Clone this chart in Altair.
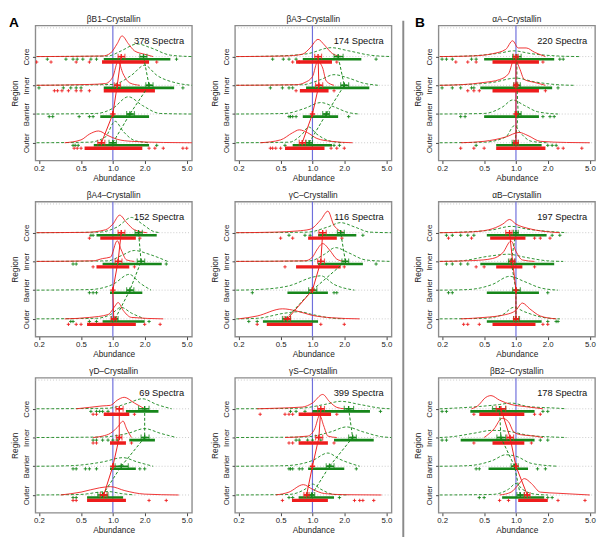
import altair as alt
import pandas as pd

FONT = "Liberation Sans, Arial, Helvetica, sans-serif"
RED = "#ee1c1c"
GREEN = "#16861a"
REFBLUE = "#6f6fdc"

titles = ["βB1–Crystallin", "βA3–Crystallin", "βA4–Crystallin", "γC–Crystallin",
          "γD–Crystallin", "γS–Crystallin", "αA–Crystallin", "αB–Crystallin", "βB2–Crystallin"]
spectra = [378, 174, 152, 116, 69, 399, 220, 197, 178]
region_names = ["Core", "Inner", "Barrier", "Outer"]
region_level = [3, 2, 1, 0]
tick_values = [0.2, 0.5, 1.0, 2.0, 5.0]
grid_levels = [0, 1, 2, 3, 4]
ref_value = [1.0]

# means and intervals, order: Core, Inner, Barrier, Outer
red_mean = [[1.2, 1.1, 1.0, 0.78], [1.13, 1.15, 1.0, 0.8], [1.2, 1.12, 1.0, 1.02],
            [1.25, 1.2, 1.0, 0.58], [1.15, 1.15, 1.0, 0.82], [1.2, 1.15, 1.0, 0.88],
            [1.0, 1.0, 1.0, 1.0], [0.87, 0.93, 1.0, 1.0], [0.72, 0.88, 1.0, 1.28]]
red_lo = [[1.12, 1.03, 1.0, 0.72], [1.05, 1.07, 1.0, 0.75], [1.12, 1.05, 1.0, 0.96],
          [1.15, 1.12, 1.0, 0.54], [1.07, 1.08, 1.0, 0.76], [1.12, 1.07, 1.0, 0.83],
          [0.95, 0.96, 1.0, 0.95], [0.8, 0.88, 1.0, 0.95], [0.65, 0.82, 1.0, 1.2]]
red_hi = [[1.3, 1.18, 1.0, 0.84], [1.22, 1.25, 1.0, 0.86], [1.3, 1.22, 1.0, 1.08],
          [1.35, 1.3, 1.0, 0.62], [1.25, 1.22, 1.0, 0.88], [1.3, 1.25, 1.0, 0.93],
          [1.05, 1.04, 1.0, 1.05], [0.92, 0.98, 1.0, 1.06], [0.8, 0.95, 1.0, 1.36]]
green_mean = [[1.95, 2.2, 1.45, 1.0], [1.75, 2.0, 1.35, 0.93], [1.75, 1.85, 1.45, 1.05],
              [1.85, 2.05, 1.0, 0.56], [2.0, 2.0, 1.2, 0.8], [2.2, 2.4, 1.45, 0.98],
              [1.02, 1.02, 1.05, 0.98], [1.0, 0.9, 1.0, 1.0], [0.7, 0.72, 0.97, 1.1]]
green_lo = [[1.8, 2.05, 1.35, 0.92], [1.6, 1.85, 1.25, 0.87], [1.62, 1.7, 1.35, 0.97],
            [1.72, 1.9, 0.92, 0.52], [1.75, 1.85, 1.05, 0.72], [2.0, 2.2, 1.35, 0.9],
            [0.93, 0.95, 0.98, 0.92], [0.95, 0.85, 0.93, 0.95], [0.6, 0.66, 0.9, 1.02]]
green_hi = [[2.1, 2.4, 1.6, 1.08], [1.95, 2.2, 1.45, 1.0], [1.9, 2.0, 1.58, 1.12],
            [2.0, 2.2, 1.1, 0.62], [2.2, 2.2, 1.4, 0.9], [2.45, 2.6, 1.6, 1.05],
            [1.12, 1.1, 1.12, 1.05], [1.05, 0.97, 1.1, 1.08], [0.8, 0.8, 1.05, 1.2]]

# density outlines [abundance, height], order: Core, Inner, Barrier, Outer
red_density = [
    [[[0.19, 0], [0.8, 0.02], [0.95, 0.12], [1.1, 0.45], [1.22, 0.72], [1.4, 0.45], [1.6, 0.2], [2.0, 0.08], [2.4, 0]],
     [[0.19, 0], [0.6, 0.03], [0.85, 0.06], [1.0, 0.3], [1.12, 0.83], [1.25, 0.4], [1.45, 0.08], [1.8, 0]],
     None,
     [[0.35, 0], [0.5, 0.1], [0.6, 0.3], [0.73, 0.41], [0.9, 0.25], [1.1, 0.12], [1.5, 0.05], [3.0, 0.01], [5.6, 0]]],
    [[[0.19, 0], [0.55, 0.02], [0.8, 0.08], [0.95, 0.3], [1.13, 0.6], [1.3, 0.4], [1.55, 0.1], [1.9, 0]],
     [[0.19, 0], [0.7, 0.02], [0.85, 0.1], [1.0, 0.3], [1.12, 0.83], [1.25, 0.6], [1.35, 0.15], [1.6, 0]],
     None,
     [[0.32, 0], [0.5, 0.1], [0.65, 0.35], [0.75, 0.45], [0.9, 0.35], [1.1, 0.15], [1.5, 0.05], [2.4, 0]]],
    [[[0.19, 0], [0.55, 0.01], [0.85, 0.1], [1.0, 0.3], [1.16, 0.61], [1.35, 0.35], [1.6, 0.1], [2.1, 0]],
     [[0.19, 0], [0.65, 0.02], [0.8, 0.1], [0.95, 0.15], [1.1, 0.72], [1.2, 0.4], [1.35, 0.05], [1.6, 0]],
     None,
     [[0.35, 0], [0.6, 0.05], [0.9, 0.15], [1.05, 0.45], [1.12, 0.57], [1.25, 0.3], [1.5, 0.05], [3.0, 0]]],
    [[[0.19, 0], [0.45, 0.02], [0.72, 0.06], [0.95, 0.12], [1.2, 0.45], [1.4, 0.75], [1.6, 0.25], [2.0, 0]],
     [[0.19, 0], [0.85, 0.02], [1.0, 0.15], [1.1, 0.4], [1.25, 0.62], [1.45, 0.4], [1.7, 0.08], [2.0, 0]],
     None,
     [[0.2, 0], [0.3, 0.1], [0.52, 0.35], [0.7, 0.28], [1.0, 0.12], [1.5, 0.04], [2.8, 0]]],
    [[[0.45, 0], [0.6, 0.05], [0.79, 0.1], [0.95, 0.12], [1.1, 0.3], [1.28, 0.4], [1.6, 0.2], [2.0, 0]],
     [[0.65, 0], [0.8, 0.05], [0.95, 0.15], [1.1, 0.35], [1.25, 0.57], [1.35, 0.3], [1.5, 0]],
     None,
     [[0.32, 0], [0.5, 0.1], [0.75, 0.25], [0.95, 0.29], [1.3, 0.15], [2.0, 0.03], [4.2, 0]]],
    [[[0.3, 0], [0.45, 0.02], [0.8, 0.06], [1.0, 0.2], [1.25, 0.5], [1.45, 0.25], [1.7, 0.05], [2.0, 0]],
     [[0.55, 0], [0.9, 0.05], [1.05, 0.3], [1.17, 0.77], [1.28, 0.4], [1.4, 0.05], [1.7, 0]],
     None,
     [[0.45, 0], [0.6, 0.1], [0.82, 0.36], [1.0, 0.2], [1.3, 0.05], [2.0, 0.01], [4.5, 0]]],
    [[[0.19, 0], [0.38, 0.02], [0.6, 0.1], [0.8, 0.25], [0.93, 0.55], [1.05, 0.3], [1.25, 0.3], [1.5, 0.15], [1.9, 0]],
     [[0.19, 0], [0.3, 0.02], [0.5, 0.1], [0.7, 0.2], [0.85, 0.4], [0.97, 0.94], [1.08, 0.6], [1.2, 0.2], [1.5, 0.1], [1.9, 0]],
     None,
     [[0.3, 0], [0.5, 0.05], [0.8, 0.2], [1.07, 0.36], [1.3, 0.25], [1.7, 0.05], [3.0, 0.01], [5.0, 0]]],
    [[[0.19, 0], [0.35, 0.02], [0.55, 0.1], [0.75, 0.3], [0.87, 0.46], [1.0, 0.3], [1.3, 0.15], [1.8, 0.05], [2.6, 0]],
     [[0.19, 0], [0.4, 0.03], [0.6, 0.1], [0.75, 0.3], [0.9, 0.71], [1.0, 0.35], [1.15, 0.05], [1.5, 0]],
     None,
     [[0.3, 0], [0.5, 0.05], [0.8, 0.15], [1.0, 0.3], [1.15, 0.55], [1.35, 0.35], [1.7, 0.1], [2.4, 0]]],
    [[[0.38, 0], [0.45, 0.15], [0.5, 0.35], [0.58, 0.46], [0.7, 0.3], [0.9, 0.15], [1.2, 0.08], [1.8, 0]],
     [[0.5, 0], [0.62, 0.3], [0.74, 0.67], [0.85, 0.55], [0.95, 0.2], [1.1, 0.1], [1.5, 0.05], [1.8, 0]],
     None,
     [[0.7, 0], [0.9, 0.1], [1.05, 0.35], [1.2, 0.57], [1.4, 0.4], [1.7, 0.1], [2.5, 0.06], [5.0, 0]]],
]
green_density = [
    [[[0.19, 0], [0.9, 0.02], [1.2, 0.2], [1.7, 0.44], [2.3, 0.3], [3.5, 0.05], [5.6, 0]],
     [[0.19, 0], [1.0, 0.03], [1.5, 0.35], [2.0, 0.7], [2.6, 0.35], [4.0, 0.08], [5.6, 0]],
     [[0.19, 0], [0.7, 0.02], [1.0, 0.2], [1.4, 0.6], [1.9, 0.3], [2.8, 0.02], [5.6, 0]],
     [[0.19, 0], [0.6, 0.02], [0.85, 0.2], [1.05, 0.75], [1.25, 0.4], [1.6, 0.08], [2.2, 0]]],
    [[[0.19, 0], [0.45, 0.02], [0.9, 0.1], [1.5, 0.31], [2.2, 0.2], [3.5, 0.05], [5.6, 0]],
     [[0.19, 0], [0.8, 0.02], [1.2, 0.2], [1.6, 0.37], [2.2, 0.25], [3.0, 0.08], [4.2, 0]],
     [[0.19, 0], [0.55, 0.02], [0.85, 0.2], [1.2, 0.4], [1.6, 0.25], [2.2, 0.05], [2.8, 0]],
     [[0.19, 0], [0.6, 0.02], [0.8, 0.3], [0.92, 0.55], [1.1, 0.3], [1.5, 0.05], [2.0, 0]]],
    [[[0.19, 0], [0.75, 0.02], [1.1, 0.2], [1.5, 0.53], [1.9, 0.3], [2.4, 0.05], [2.8, 0]],
     [[0.19, 0], [0.9, 0.02], [1.2, 0.2], [1.6, 0.38], [2.2, 0.25], [3.3, 0]],
     [[0.19, 0], [0.6, 0.02], [1.0, 0.2], [1.43, 0.55], [1.8, 0.25], [2.3, 0]],
     [[0.19, 0], [0.7, 0.02], [0.95, 0.15], [1.2, 0.4], [1.5, 0.2], [2.0, 0]]],
    [[[0.19, 0], [0.9, 0.02], [1.4, 0.2], [1.85, 0.35], [2.5, 0.2], [3.5, 0.02], [5.6, 0]],
     [[0.19, 0], [0.95, 0.02], [1.3, 0.25], [1.65, 0.48], [2.2, 0.3], [3.2, 0.05], [5.6, 0]],
     [[0.19, 0], [0.3, 0.02], [0.6, 0.15], [1.0, 0.45], [1.2, 0.5], [1.6, 0.2], [2.5, 0]],
     [[0.19, 0], [0.3, 0.02], [0.55, 0.2], [0.75, 0.25], [1.0, 0.15], [1.5, 0.03], [2.0, 0]]],
    [[[0.19, 0], [0.9, 0.02], [1.4, 0.2], [1.9, 0.35], [2.6, 0.15], [3.6, 0]],
     [[0.19, 0], [0.8, 0.02], [1.4, 0.15], [2.0, 0.31], [2.8, 0.15], [4.0, 0]],
     [[0.19, 0], [0.4, 0.02], [0.8, 0.15], [1.25, 0.3], [1.7, 0.15], [2.4, 0]],
     [[0.19, 0], [0.5, 0.02], [0.75, 0.1], [0.9, 0.12], [1.2, 0.05], [1.6, 0]]],
    [[[0.19, 0], [0.75, 0.02], [1.3, 0.15], [1.85, 0.26], [2.8, 0.15], [4.5, 0.02], [5.6, 0]],
     [[0.19, 0], [0.85, 0.02], [1.5, 0.2], [2.1, 0.37], [3.0, 0.2], [4.5, 0.03], [5.6, 0]],
     [[0.19, 0], [0.55, 0.02], [1.0, 0.2], [1.4, 0.46], [1.8, 0.25], [2.8, 0]],
     [[0.19, 0], [0.6, 0.02], [0.85, 0.2], [1.0, 0.38], [1.2, 0.2], [1.6, 0.02], [2.2, 0]]],
    [[[0.19, 0], [0.35, 0.02], [0.7, 0.12], [0.95, 0.2], [1.4, 0.1], [2.5, 0.02], [4.0, 0]],
     [[0.19, 0], [0.3, 0.02], [0.6, 0.1], [1.0, 0.25], [1.5, 0.12], [2.5, 0.02], [3.5, 0]],
     [[0.19, 0], [0.5, 0.02], [0.75, 0.25], [0.93, 0.49], [1.2, 0.3], [1.6, 0.08], [2.5, 0]],
     [[0.19, 0], [0.5, 0.02], [0.8, 0.2], [0.97, 0.6], [1.1, 0.35], [1.4, 0.05], [2.0, 0]]],
    [[[0.19, 0], [0.3, 0.02], [0.6, 0.1], [0.9, 0.22], [1.3, 0.12], [2.5, 0.02], [3.0, 0]],
     [[0.19, 0], [0.3, 0.02], [0.55, 0.18], [0.85, 0.25], [1.2, 0.15], [2.0, 0.02], [2.8, 0]],
     [[0.19, 0], [0.35, 0.02], [0.6, 0.2], [0.87, 0.48], [1.2, 0.3], [1.7, 0.08], [2.5, 0]],
     [[0.19, 0], [0.5, 0.02], [0.75, 0.15], [0.95, 0.4], [1.2, 0.25], [1.8, 0.05], [2.6, 0]]],
    [[[0.19, 0], [0.25, 0.02], [0.45, 0.08], [0.7, 0.15], [0.9, 0.2], [1.3, 0.08], [2.5, 0.02], [3.0, 0]],
     [[0.19, 0], [0.25, 0.03], [0.4, 0.15], [0.6, 0.25], [0.9, 0.2], [1.3, 0.08], [2.2, 0.02], [3.0, 0]],
     [[0.19, 0], [0.35, 0.02], [0.6, 0.2], [0.8, 0.4], [1.0, 0.35], [1.4, 0.1], [2.5, 0]],
     [[0.19, 0], [0.6, 0.02], [0.85, 0.2], [1.0, 0.4], [1.15, 0.2], [1.5, 0.03], [2.0, 0]]],
]

# dense parts of the spectra strips [from, to], order: Core, Inner, Barrier, Outer
red_strip = [[[0.79, 2.2], [0.82, 2.5], None, [0.54, 1.9]],
             [[0.7, 1.53], [0.76, 1.42], None, [0.55, 1.3]],
             [[0.76, 1.65], [0.7, 1.43], None, [0.57, 1.65]],
             [[0.91, 1.7], [0.7, 1.85], None, [0.37, 1.0]],
             [[0.82, 1.43], [0.94, 1.33], None, [0.57, 1.33]],
             [[0.74, 1.5], [0.74, 1.4], None, [0.64, 1.4]],
             [[0.6, 1.65], [0.6, 1.65], None, [0.65, 1.9]],
             [[0.57, 1.23], [0.65, 1.15], None, [0.6, 1.53]],
             [[0.45, 1.2], [0.6, 1.2], None, [1.05, 2.0]]]
green_strip = [[[0.82, 3.5], [0.82, 3.8], [0.76, 2.2], [0.66, 2.2]],
               [[0.81, 2.9], [0.87, 3.45], [0.81, 1.75], [0.65, 1.53]],
               [[0.7, 2.6], [0.8, 2.9], [0.94, 1.9], [0.8, 2.0]],
               [[1.13, 2.6], [1.13, 3.0], [0.58, 1.4], [0.34, 1.13]],
               [[1.33, 2.7], [1.43, 2.5], [0.94, 1.65], [0.57, 1.25]],
               [[1.0, 3.5], [1.6, 3.8], [0.91, 2.0], [0.74, 1.6]],
               [[0.5, 2.3], [0.46, 2.2], [0.5, 1.65], [0.65, 1.75]],
               [[0.53, 1.95], [0.46, 2.3], [0.53, 1.65], [0.53, 1.75]],
               [[0.37, 1.5], [0.3, 1.5], [0.55, 1.3], [0.74, 1.85]]]

# isolated spectra, order: Core, Inner, Barrier, Outer
red_pts = [[[0.19, 0.26, 0.45, 0.6, 2.6], [0.28, 0.3, 0.33, 0.38, 0.45, 0.5, 0.6], [], [0.43, 0.46, 0.5, 2.2, 2.5, 3.0, 4.6, 5.0]],
           [[0.65, 0.75, 1.7], [0.7, 1.6], [], [0.4, 0.42, 0.45, 0.5, 1.5, 1.7, 2.0]],
           [[0.6, 1.8], [0.65, 1.6], [], [0.38, 0.45, 0.5, 2.0, 2.8]],
           [[0.5, 0.65, 1.9], [0.55, 2.0], [], [0.3, 1.2, 2.0]],
           [[0.65, 0.7, 1.6], [0.65, 0.7, 1.5], [], [0.42, 0.45, 2.2, 3.2]],
           [[0.32, 0.55, 0.6, 0.65, 1.7], [0.6, 0.65, 1.6], [], [0.52, 2.5, 2.8, 3.0, 3.8]],
           [[0.27, 0.35, 0.42, 1.8], [0.35, 0.4, 0.45, 1.9], [], [0.3, 0.4, 0.5, 2.5, 2.8, 4.2]],
           [[0.23, 0.38, 1.5, 1.7, 2.1], [0.42, 0.5, 1.5], [], [0.32, 0.35, 0.45, 1.8, 2.0]],
           [[0.4, 1.5, 1.7], [0.4, 1.4], [], [0.7, 0.85, 2.5, 4.5]]]
green_pts = [[[0.24, 0.36, 0.42, 0.46, 0.52, 0.62, 0.7, 4.0], [0.2, 0.34, 0.4, 0.45, 0.5, 4.6], [0.25, 0.27, 0.48, 0.6, 0.65], [0.42, 0.44, 0.47, 2.6]],
             [[0.42, 0.53, 0.6, 0.7, 4.0], [0.4, 0.52, 0.6, 0.65], [0.6, 0.62, 0.65, 0.7, 2.2], [0.55, 1.6, 1.8]],
             [[0.62, 0.65], [0.42, 0.45, 3.2], [0.6, 0.65, 0.7], [0.4, 0.42, 0.6, 0.7, 2.2]],
             [[0.6, 0.85, 0.95, 3.0], [4.0], [0.27, 1.6, 1.7], [0.25, 0.3]],
             [[0.62, 0.7, 0.75, 0.8, 0.9], [0.65, 0.7, 0.8, 0.9, 1.0, 1.1], [0.42, 0.45, 0.55, 0.6, 0.7, 1.8, 2.0], [0.42, 0.45]],
             [[0.62, 0.7, 0.85, 4.4], [0.7, 0.75, 0.9, 1.0, 1.2], [0.6, 0.62, 0.65, 0.75, 0.8, 2.6], [0.6, 0.65, 1.8]],
             [[0.2, 0.22, 0.25, 0.38, 0.42, 2.6, 2.8], [0.2, 0.25, 0.3, 0.38, 0.4, 2.5], [0.3, 0.33, 1.8, 2.1, 2.3], [0.42, 2.0, 2.2, 2.4]],
             [[0.22, 0.25, 0.3, 0.35, 0.4, 2.2, 2.6], [0.22, 0.25, 0.3, 0.35], [0.23, 0.25, 2.0], [2.0, 2.4, 2.5]],
             [[0.2, 0.22, 1.8, 2.0], [0.2, 0.22, 1.7, 2.0], [0.42, 0.45, 1.6, 1.9], [0.45, 0.5, 2.0, 2.2]]]

W, H = 160, 138
XDOM = [0.185, 5.6]
YDOM = [-0.62, 4.08]
G_OFF = -0.09
R_OFF = -0.19
PLUS = "M-1,0L1,0M0,-1L0,1"

xs = alt.Scale(type="log", domain=XDOM, nice=False)
ys = alt.Scale(domain=YDOM, nice=False, zero=False)
label_expr = "[" + ",".join("'%s'" % region_names[region_level.index(v)] for v in range(4)) + "][datum.value]"
xaxis = alt.Axis(values=tick_values, format=".1f", tickSize=3, labelPadding=1, grid=False,
                 domain=False, titlePadding=1, labelFlush=False)
yaxis = alt.Axis(values=[0, 1, 2, 3], labelExpr=label_expr, labelAngle=270, labelAlign="center",
                 labelBaseline="bottom", tickSize=3, labelPadding=2, grid=False, domain=False,
                 titlePadding=3)


def X(f):
    return alt.X(f, type="quantitative", scale=xs, axis=xaxis, title="Abundance")


def Y(f):
    return alt.Y(f, type="quantitative", scale=ys, axis=yaxis, title="Region")


def text_layer(s, **kw):
    return alt.Chart(pd.DataFrame({"t": [s]})).mark_text(font=FONT, **kw)


def panel(i, letter=None):
    dens = {"g": [], "r": []}
    strips = {"g": [], "r": []}
    pts = {"g": [], "r": []}
    means = {"g": [], "r": []}
    src = {"g": (green_density, green_strip, green_pts, green_mean, green_lo, green_hi, G_OFF),
           "r": (red_density, red_strip, red_pts, red_mean, red_lo, red_hi, R_OFF)}
    for c, (dd, ss, pp, mm, lo, hi, off) in src.items():
        for r in range(4):
            lvl = region_level[r]
            if dd[i][r] is not None:
                for k, (x, h) in enumerate(dd[i][r]):
                    dens[c].append({"reg": r, "k": k, "x": x, "y": lvl + h})
            if ss[i][r] is not None:
                strips[c].append({"x": ss[i][r][0], "x2": ss[i][r][1], "y": lvl + off})
            for x in pp[i][r]:
                pts[c].append({"x": x, "y": lvl + off})
            means[c].append({"x": mm[i][r], "lo": lo[i][r], "hi": hi[i][r], "y": lvl})
    layers = []
    layers.append(alt.Chart(pd.DataFrame({"lvl": grid_levels})).mark_rule(
        color="#bdbdbd", strokeDash=[1, 2], strokeWidth=0.8).encode(y=Y("lvl")))
    layers.append(alt.Chart(pd.DataFrame({"v": ref_value})).mark_rule(
        color=REFBLUE, strokeWidth=1.2).encode(x=X("v")))
    for c in ("g", "r"):
        col = GREEN if c == "g" else RED
        kw = {"strokeDash": [3, 2]} if c == "g" else {}
        layers.append(alt.Chart(pd.DataFrame(dens[c])).mark_line(
            color=col, strokeWidth=0.9, interpolate="monotone", clip=True, **kw).encode(
            x=X("x"), y=Y("y"), detail="reg:N", order="k:Q"))
    for c in ("g", "r"):
        col = GREEN if c == "g" else RED
        sw = 2.6 if c == "g" else 3.4
        layers.append(alt.Chart(pd.DataFrame(strips[c])).mark_rule(
            color=col, strokeWidth=sw, clip=True).encode(x=X("x"), x2="x2:Q", y=Y("y")))
        layers.append(alt.Chart(pd.DataFrame(pts[c])).mark_point(
            shape=PLUS, size=12, filled=False, color=col, strokeWidth=0.9, opacity=1, clip=True).encode(
            x=X("x"), y=Y("y")))
    for c in ("g", "r"):
        col = GREEN if c == "g" else RED
        kw = {"strokeDash": [3, 2]} if c == "g" else {}
        mdf = pd.DataFrame(means[c])
        layers.append(alt.Chart(mdf).mark_line(color=col, strokeWidth=1, **kw).encode(
            x=X("x"), y=Y("y"), order="y:Q"))
        layers.append(alt.Chart(mdf).mark_rule(color=col, strokeWidth=1.5).encode(
            x=X("lo"), x2="hi:Q", y=Y("y")))
        layers.append(alt.Chart(mdf).mark_tick(color=col, orient="vertical", size=6, thickness=1.2).encode(
            x=X("lo"), y=Y("y")))
        layers.append(alt.Chart(mdf).mark_tick(color=col, orient="vertical", size=6, thickness=1.2).encode(
            x=X("hi"), y=Y("y")))
        layers.append(alt.Chart(mdf).mark_point(shape=PLUS, size=30, filled=False, color=col,
                                                strokeWidth=1.4, opacity=1).encode(x=X("x"), y=Y("y")))
    layers.append(text_layer("%d Spectra" % spectra[i], align="right", baseline="middle",
                             fontSize=9.5, color="#111").encode(
        x=alt.value(W - 8), y=alt.value(16), text="t:N"))
    layers.append(text_layer(titles[i], align="center", baseline="middle", fontSize=8.5,
                             color="#222").encode(x=alt.value(W / 2), y=alt.value(-7), text="t:N"))
    if letter is not None:
        layers.append(text_layer(letter[0], align="left", baseline="top", fontSize=14,
                                 fontWeight="bold", color="#000").encode(
            x=alt.value(letter[1]), y=alt.value(-10), text="t:N"))
    return alt.layer(*layers).properties(width=W, height=H)


col1 = alt.vconcat(panel(0, letter=("A", -27)), panel(2), panel(4), spacing=7)
col2 = alt.vconcat(panel(1), panel(3), panel(5), spacing=7)
col3 = alt.vconcat(panel(6, letter=("B", -24)), panel(7), panel(8), spacing=7)

sep_span = [0]
separator = alt.Chart(pd.DataFrame({"s": sep_span})).mark_rule(color="#8a8a8a", strokeWidth=2).encode(
    x=alt.value(1), y=alt.value(-5), y2=alt.value(525)
).properties(width=2, height=520, view=alt.ViewBackground(stroke=None))

left = alt.hconcat(alt.hconcat(col1, col2, spacing=16), separator, spacing=9)
chart = alt.hconcat(left, col3, spacing=9).properties(
    padding={"left": 0, "top": 0, "right": 0, "bottom": 0}
).configure_view(stroke="#8c8c8c", strokeWidth=1.4).configure_axis(
    labelFont=FONT, labelFontSize=8, labelColor="#222", titleFont=FONT, titleFontSize=8.5,
    titleFontWeight="normal", titleColor="#222", tickColor="#444"
)

chart.save("out.html", embed_options={"renderer": "svg", "actions": False})
